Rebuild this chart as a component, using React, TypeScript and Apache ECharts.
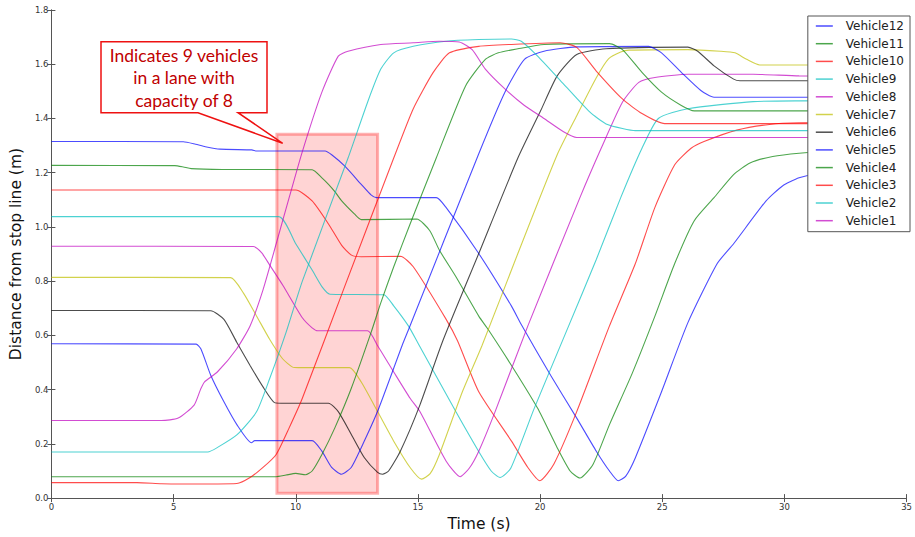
import React, { useEffect, useRef } from "react";
import * as echarts from "echarts";

// ---- data: [time (s), distance from stop line (m)] ----
const vehicle12: [number, number][] = [
  [0, 1.315], [5.4, 1.314], [5.9, 1.305], [6.3, 1.296], [6.9, 1.287], [8.2, 1.284], [8.4, 1.28], [11.2, 1.28],
  [11.47, 1.266], [12.01, 1.224], [12.68, 1.157], [13.08, 1.118], [13.3, 1.108], [15.75, 1.108], [16.15, 1.072],
  [17.49, 0.902], [18.83, 0.708], [19.23, 0.64], [20.43, 0.453], [21.5, 0.295], [22.3, 0.173], [22.84, 0.1],
  [23.2, 0.064], [23.5, 0.08], [23.9, 0.149], [24.97, 0.392], [26.05, 0.647], [27.25, 0.865], [27.92, 0.938],
  [29.25, 1.096], [29.92, 1.151], [30.6, 1.181], [31.5, 1.2], [33, 1.21], [35, 1.215],
];
const vehicle11: [number, number][] = [
  [0, 1.227], [5.05, 1.226], [5.4, 1.221], [5.72, 1.215], [7, 1.212], [10.67, 1.211], [11.07, 1.181], [11.34, 1.157],
  [11.6, 1.13], [11.88, 1.096], [12.41, 1.047], [12.68, 1.027], [14.95, 1.029], [15.48, 0.987], [15.88, 0.914],
  [16.55, 0.817], [17.49, 0.671], [17.89, 0.62], [18.83, 0.489], [19.9, 0.331], [20.7, 0.186], [21.23, 0.1],
  [21.63, 0.074], [22.17, 0.125], [22.84, 0.271], [23.77, 0.46], [24.7, 0.671], [25.51, 0.865], [26.31, 1.023],
  [27.12, 1.108], [27.92, 1.193], [28.59, 1.236], [29.52, 1.26], [30.6, 1.272], [32, 1.28], [35, 1.285],
];
const vehicle10: [number, number][] = [
  [0, 1.136], [10, 1.136], [10.67, 1.096], [11.34, 1.011], [11.88, 0.932], [12.28, 0.896], [12.68, 0.89],
  [14.28, 0.892], [14.81, 0.853], [16.15, 0.66], [16.62, 0.58], [17.49, 0.392], [18.83, 0.21], [19.5, 0.113],
  [19.99, 0.064], [20.56, 0.125], [21.5, 0.319], [22.84, 0.635], [23.9, 0.865], [24.7, 1.072], [25.51, 1.229],
  [26.18, 1.29], [26.71, 1.315], [28.05, 1.357], [29.39, 1.378], [30.6, 1.384], [35, 1.387],
];
const vehicle9: [number, number][] = [
  [0, 1.038], [9.3, 1.038], [10, 0.938], [10.67, 0.841], [11.07, 0.78], [11.4, 0.752], [13.6, 0.75], [14.0, 0.71],
  [14.61, 0.635], [15.01, 0.57], [16.55, 0.319], [17.5, 0.17], [18.0, 0.1], [18.36, 0.076], [18.8, 0.11],
  [19.76, 0.331], [21.17, 0.635], [22.3, 0.88], [23.3, 1.108], [24.17, 1.29], [24.84, 1.4], [26.05, 1.436],
  [28.72, 1.462], [30.6, 1.465], [35, 1.466],
];
const vehicle8: [number, number][] = [
  [0, 0.929], [8.26, 0.928], [8.6, 0.905], [8.93, 0.86], [9.47, 0.785], [10.27, 0.665], [10.67, 0.628], [10.9, 0.617],
  [12.94, 0.617], [13.35, 0.562], [14.01, 0.465], [14.68, 0.368], [15.08, 0.319], [16.15, 0.137], [16.73, 0.079],
  [17.1, 0.11], [17.49, 0.173], [18.16, 0.319], [19.5, 0.635], [21.63, 1.108], [22.5, 1.29], [23.37, 1.46],
  [24.04, 1.533], [24.7, 1.551], [26.05, 1.563], [28.72, 1.563], [30.6, 1.557], [35, 1.555],
];
const vehicle7: [number, number][] = [
  [0, 0.814], [7.33, 0.813], [7.86, 0.756], [8.4, 0.671], [8.93, 0.586], [9.47, 0.513], [9.87, 0.483], [10.1, 0.481],
  [12.2, 0.481], [12.68, 0.428], [13.35, 0.319], [14.01, 0.21], [14.68, 0.113], [15.15, 0.07], [15.5, 0.09],
  [15.88, 0.161], [16.82, 0.392], [17.62, 0.562], [19.09, 0.902], [20.7, 1.266], [21.5, 1.41], [22.3, 1.55],
  [22.8, 1.62], [23.3, 1.645], [23.64, 1.652], [26.05, 1.654], [27.38, 1.648], [27.98, 1.642], [28.45, 1.618],
  [28.99, 1.597], [35, 1.597],
];
const vehicle6: [number, number][] = [
  [0, 0.692], [6.52, 0.691], [7.06, 0.659], [7.59, 0.574], [8.13, 0.489], [8.66, 0.41], [9.13, 0.352], [9.4, 0.35],
  [11.34, 0.35], [11.74, 0.319], [12.28, 0.234], [12.81, 0.149], [13.35, 0.095], [13.55, 0.088], [13.8, 0.1],
  [14.28, 0.173], [15.08, 0.343], [16.02, 0.58], [17.49, 0.902], [19.09, 1.254], [20.03, 1.43], [20.7, 1.557],
  [21.5, 1.636], [22.7, 1.657], [26.05, 1.663], [26.45, 1.648], [27.12, 1.594], [27.92, 1.545], [28.18, 1.539],
  [35, 1.539],
];
const vehicle5: [number, number][] = [
  [0, 0.569], [5.92, 0.568], [6.12, 0.55], [6.52, 0.453], [7.06, 0.355], [7.59, 0.271], [8.19, 0.204], [8.32, 0.212],
  [10.67, 0.212], [11.07, 0.173], [11.47, 0.113], [11.87, 0.088], [12.27, 0.113], [12.68, 0.186], [13.35, 0.32],
  [14.35, 0.562], [14.61, 0.62], [17.49, 1.27], [18.56, 1.497], [19.36, 1.618], [20.16, 1.648], [21.5, 1.664],
  [24.44, 1.666], [24.97, 1.642], [25.78, 1.57], [26.58, 1.503], [27.12, 1.478], [35, 1.478],
];
const vehicle4: [number, number][] = [
  [0, 0.079], [9.2, 0.079], [9.6, 0.085], [10, 0.091], [10.4, 0.086], [10.67, 0.1], [11.07, 0.161], [11.6, 0.259],
  [12.27, 0.404], [13.08, 0.61], [13.48, 0.72], [14.01, 0.853], [14.68, 1.011], [15.75, 1.254], [16.95, 1.52],
  [17.76, 1.618], [18.29, 1.642], [19.09, 1.657], [20.16, 1.673], [22.84, 1.676], [23.37, 1.654], [24.17, 1.57],
  [24.97, 1.497], [25.78, 1.448], [26.31, 1.428], [35, 1.428],
];
const vehicle3: [number, number][] = [
  [0, 0.057], [3.5, 0.057], [4.5, 0.053], [5.35, 0.052], [7.59, 0.054], [8.13, 0.076], [8.66, 0.113], [9.2, 0.161],
  [9.73, 0.259], [10.27, 0.368], [12, 0.78], [14.01, 1.254], [14.81, 1.436], [15.62, 1.569], [16.29, 1.642],
  [17.49, 1.666], [18.83, 1.673], [20.83, 1.679], [21.5, 1.662], [22.3, 1.575], [23.37, 1.472], [24.17, 1.418],
  [25.1, 1.381], [35, 1.381],
];
const vehicle2: [number, number][] = [
  [0, 0.17], [6.4, 0.17], [6.8, 0.187], [7.6, 0.234], [8.4, 0.319], [8.93, 0.44], [9.6, 0.61], [10.27, 0.8],
  [12.14, 1.254], [12.94, 1.46], [13.48, 1.582], [14.01, 1.642], [14.81, 1.666], [16.15, 1.685], [17.49, 1.691],
  [18.83, 1.693], [19.23, 1.685], [19.9, 1.63], [20.83, 1.54], [22.03, 1.424], [22.7, 1.38], [23.37, 1.363],
  [23.9, 1.355], [35, 1.355],
];
const vehicle1: [number, number][] = [
  [0, 0.286], [4.5, 0.286], [5.19, 0.295], [5.84, 0.343], [6.1, 0.4], [6.26, 0.428], [6.79, 0.465], [7.58, 0.55],
  [8.13, 0.635], [8.66, 0.768], [9.2, 0.938], [9.73, 1.108], [10.27, 1.278], [11.07, 1.497], [11.74, 1.63],
  [12.14, 1.648], [13.48, 1.673], [14.81, 1.679], [15.88, 1.685], [16.69, 1.682], [17.22, 1.654], [17.76, 1.582],
  [18.56, 1.509], [19.36, 1.448], [20.16, 1.4], [20.96, 1.351], [21.5, 1.33], [35, 1.33],
];

const vehicleNames = [
  "Vehicle12", "Vehicle11", "Vehicle10", "Vehicle9", "Vehicle8", "Vehicle7",
  "Vehicle6", "Vehicle5", "Vehicle4", "Vehicle3", "Vehicle2", "Vehicle1",
];
const vehicleData = [
  vehicle12, vehicle11, vehicle10, vehicle9, vehicle8, vehicle7,
  vehicle6, vehicle5, vehicle4, vehicle3, vehicle2, vehicle1,
];
const vehicleColors = [
  "#0000ff", "#008000", "#ff0000", "#00bfbf", "#bf00bf", "#bfbf00",
  "#000000", "#0000ff", "#008000", "#ff0000", "#00bfbf", "#bf00bf",
];

// shaded region (time range, distance range)
const shadeTime = [9.23, 13.35];
const shadeDist = [0.018, 1.342];

const annotationText = "Indicates 9 vehicles\nin a lane with\ncapacity of 8";

const xTicks = { min: 0, max: 35, interval: 5 };
const yTicks = { min: 0, max: 1.8, interval: 0.2 };

export default function App() {
  const ref = useRef<HTMLDivElement>(null);
  useEffect(() => {
    if (!ref.current) return;
    const chart = echarts.init(ref.current, undefined, { renderer: "svg" });
    const spine = { lineStyle: { color: "#555", width: 1 } };
    const tickStyle = { inside: true, length: 4, lineStyle: { color: "#555" } };
    const tickFont = { fontFamily: "DejaVu Sans", fontSize: 8.5, color: "#333" };

    const series: any[] = vehicleNames.map((name, i) => ({
      name,
      type: "line",
      data: vehicleData[i],
      showSymbol: false,
      symbol: "none",
      smooth: 0.2,
      color: vehicleColors[i],
      itemStyle: { color: vehicleColors[i], opacity: 0.7 },
      lineStyle: { color: vehicleColors[i], width: 1.1, opacity: 0.7 },
      z: 2,
    }));
    series.push({
      name: "shade",
      type: "line",
      data: [],
      z: 5,
      silent: true,
      markArea: {
        silent: true,
        itemStyle: {
          color: "rgba(255,0,0,0.17)",
          borderColor: "rgba(255,0,0,0.3)",
          borderWidth: 3,
        },
        data: [[
          { xAxis: shadeTime[0], yAxis: shadeDist[0] },
          { xAxis: shadeTime[1], yAxis: shadeDist[1] },
        ]],
      },
    });

    chart.setOption({
      animation: false,
      backgroundColor: "#ffffff",
      grid: { left: 44, top: 10, right: -1.3, bottom: 32.7, containLabel: false },
      xAxis: [
        {
          type: "value", ...xTicks, position: "bottom",
          axisLine: spine, axisTick: tickStyle, splitLine: { show: false },
          axisLabel: { ...tickFont, margin: 4 },
          name: "Time (s)", nameLocation: "middle", nameGap: 16,
          nameTextStyle: { fontFamily: "DejaVu Sans", fontSize: 15.5, color: "#111" },
        },
        {
          type: "value", ...xTicks, position: "top",
          axisLine: spine, axisTick: tickStyle, splitLine: { show: false },
          axisLabel: { show: false },
        },
      ],
      yAxis: [
        {
          type: "value", ...yTicks, position: "left",
          axisLine: { show: true, ...spine }, axisTick: tickStyle, splitLine: { show: false },
          axisLabel: { ...tickFont, margin: 3, formatter: (v: number) => v.toFixed(1) },
          name: "Distance from stop line (m)", nameLocation: "middle", nameGap: 18,
          nameTextStyle: { fontFamily: "DejaVu Sans", fontSize: 15.5, color: "#111" },
        },
        {
          type: "value", ...yTicks, position: "right",
          axisLine: { show: true, ...spine }, axisTick: tickStyle, splitLine: { show: false },
          axisLabel: { show: false },
        },
      ],
      legend: {
        data: vehicleNames,
        orient: "vertical",
        right: 5,
        top: 16,
        backgroundColor: "#ffffff",
        borderColor: "#555",
        borderWidth: 1,
        borderRadius: 0,
        padding: [3, 6, 4, 8],
        icon: "rect",
        itemWidth: 17,
        itemHeight: 1.5,
        itemGap: 3.7,
        itemStyle: { opacity: 0.7 },
        textStyle: { fontFamily: "DejaVu Sans", fontSize: 12, color: "#222", lineHeight: 14, padding: [0, 0, 0, 8] },
        z: 10,
      },
      graphic: [
        {
          type: "polygon",
          z: 20,
          shape: {
            points: [
              [101, 41.7], [267, 41.7], [267, 112.7], [238, 112.7], [282.7, 143.3], [198, 112.7], [101, 112.7],
            ],
          },
          style: { fill: "#ffffff", stroke: "#ee1111", lineWidth: 1.5 },
        },
        {
          type: "text",
          z: 21,
          x: 184,
          y: 43.75,
          style: {
            text: annotationText,
            fontFamily: "Lato",
            fontSize: 17.5,
            lineHeight: 22.5,
            fill: "#c00000",
            align: "center",
            verticalAlign: "top",
          },
        },
      ],
      series,
    });
    return () => chart.dispose();
  }, []);
  return (
    <div
      ref={ref}
      style={{ position: "fixed", left: 0, top: 0, width: 915, height: 537 }}
    />
  );
}
